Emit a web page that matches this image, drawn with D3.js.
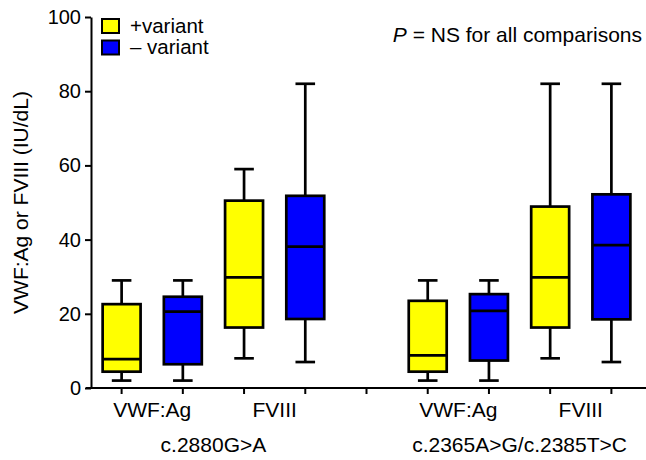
<!DOCTYPE html>
<html>
<head>
<meta charset="utf-8">
<script src="https://cdn.jsdelivr.net/npm/d3@7"></script>
<style>
  body { margin: 0; background: #fff; }
  svg { display: block; }
  text { font-family: "Liberation Sans", Arial, Helvetica, sans-serif; fill: #000; }
  .axis path, .axis line { stroke: #000; stroke-width: 2; }
</style>
</head>
<body>
<div id="chart"><svg></svg></div>
<script>
// data
const groups = ['c.2880G>A', 'c.2365A>G/c.2385T>C']
const measures = ['VWF:Ag', 'FVIII']
const variants = ['+variant', '\u2013 variant']
const variantColors = ['#ffff00', '#0000ff']
const yTicks = [0, 20, 40, 60, 80, 100]
// one entry per box, in order group > measure > variant
const whiskerLow = [2, 2, 8, 7, 2, 2, 8, 7]
const q1 = [4.4, 6.4, 16.3, 18.6, 4.4, 7.4, 16.3, 18.5]
const median = [7.8, 20.6, 29.8, 38.1, 8.8, 20.8, 29.8, 38.5]
const q3 = [22.6, 24.6, 50.5, 51.8, 23.5, 25.3, 48.9, 52.2]
const whiskerHigh = [29, 29, 59, 82, 29, 29, 82, 82]

const width = 646
const height = 460
const svg = d3.select('#chart svg').attr('width', width).attr('height', height)

// slots: 4 boxes, empty slot, 4 boxes
const slots = []
const boxes = []
groups.forEach((g, gi) => {
  measures.forEach((m, mi) => {
    variants.forEach((v, vi) => {
      const key = `${gi}-${mi}-${vi}`
      slots.push(key)
      const i = boxes.length
      boxes.push({
        key, gi, mi, vi,
        lo: whiskerLow[i], q1: q1[i], med: median[i], q3: q3[i], hi: whiskerHigh[i]
      })
    })
  })
  if (gi < groups.length - 1) slots.push('gap' + gi)
})

const x = d3.scaleBand().domain(slots).range([91, 642])
const y = d3.scaleLinear().domain([0, 100]).range([388, 17])

// y axis
const yAxisG = svg.append('g').attr('class', 'axis')
  .attr('transform', 'translate(91,0)')
  .call(d3.axisLeft(y).tickValues(yTicks).tickSize(6).tickSizeOuter(0).tickPadding(4))
yAxisG.selectAll('text').attr('font-size', 20)

// x axis
const xAxisG = svg.append('g').attr('class', 'axis')
  .attr('transform', `translate(0,${y(0)})`)
  .call(d3.axisBottom(x).tickFormat('').tickSize(6).tickSizeOuter(0))
xAxisG.select('.domain').attr('d', `M${x.range()[0] - 5},0H${x.range()[1] + 4}`)

// boxes
const boxW = x.bandwidth() * 0.62
const capW = x.bandwidth() * 0.32
const bw = 2.7
const boxG = svg.append('g').selectAll('g').data(boxes).enter().append('g')
  .attr('transform', d => `translate(${x(d.key) + x.bandwidth() / 2},0)`)

boxG.append('line')
  .attr('x1', 0).attr('x2', 0)
  .attr('y1', d => y(d.hi)).attr('y2', d => y(d.q3))
  .attr('stroke', '#000').attr('stroke-width', bw)
boxG.append('line')
  .attr('x1', 0).attr('x2', 0)
  .attr('y1', d => y(d.q1)).attr('y2', d => y(d.lo))
  .attr('stroke', '#000').attr('stroke-width', bw)
boxG.append('line')
  .attr('x1', -capW / 2).attr('x2', capW / 2)
  .attr('y1', d => y(d.hi)).attr('y2', d => y(d.hi))
  .attr('stroke', '#000').attr('stroke-width', bw)
boxG.append('line')
  .attr('x1', -capW / 2).attr('x2', capW / 2)
  .attr('y1', d => y(d.lo)).attr('y2', d => y(d.lo))
  .attr('stroke', '#000').attr('stroke-width', bw)
boxG.append('rect')
  .attr('x', -boxW / 2).attr('width', boxW)
  .attr('y', d => y(d.q3)).attr('height', d => y(d.q1) - y(d.q3))
  .attr('fill', d => variantColors[d.vi])
  .attr('stroke', '#000').attr('stroke-width', bw)
boxG.append('line')
  .attr('x1', -boxW / 2).attr('x2', boxW / 2)
  .attr('y1', d => y(d.med)).attr('y2', d => y(d.med))
  .attr('stroke', '#000').attr('stroke-width', bw)

// measure labels under each pair
groups.forEach((g, gi) => {
  measures.forEach((m, mi) => {
    const a = x(`${gi}-${mi}-0`)
    const b = x(`${gi}-${mi}-1`) + x.bandwidth()
    svg.append('text')
      .attr('x', (a + b) / 2).attr('y', 417)
      .attr('text-anchor', 'middle').attr('font-size', 21)
      .text(m)
  })
  const a = x(`${gi}-0-0`)
  const b = x(`${gi}-${measures.length - 1}-1`) + x.bandwidth()
  svg.append('text')
    .attr('x', (a + b) / 2).attr('y', 452)
    .attr('text-anchor', 'middle').attr('font-size', 21)
    .text(g)
})

// y title
svg.append('text')
  .attr('transform', `translate(28,${(y(0) + y(100)) / 2}) rotate(-90)`)
  .attr('text-anchor', 'middle').attr('font-size', 21)
  .text('VWF:Ag or FVIII (IU/dL)')

// legend
const legend = svg.append('g').selectAll('g').data(variants).enter().append('g')
  .attr('transform', (d, i) => `translate(102,${19 + i * 21.5})`)
legend.append('rect')
  .attr('width', 17).attr('height', 14)
  .attr('fill', (d, i) => variantColors[i])
  .attr('stroke', '#000').attr('stroke-width', 2)
legend.append('text')
  .attr('x', 28).attr('y', 13.5)
  .attr('font-size', 20.5)
  .text(d => d)

// note
const note = svg.append('text')
  .attr('x', 642).attr('y', 42)
  .attr('text-anchor', 'end').attr('font-size', 21)
note.append('tspan').attr('font-style', 'italic').text('P')
note.append('tspan').text(' = NS for all comparisons')
</script>
</body>
</html>
